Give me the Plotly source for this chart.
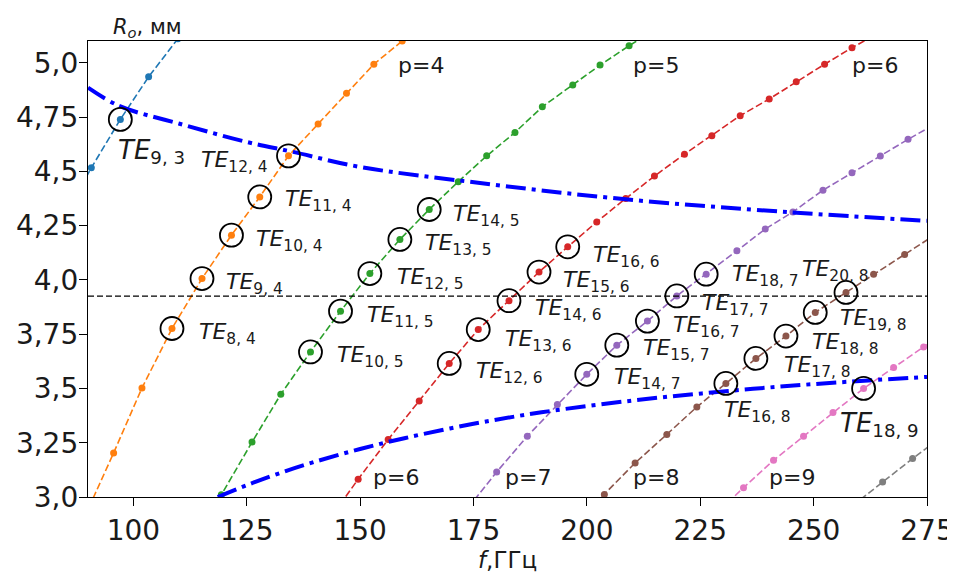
import plotly.graph_objects as go

# ---------------- data ----------------
# TE_{m,p} families: mode index m, frequency f [GHz], radius R [mm]
p3_m = [7, 8, 9, 10, 11]
p3_f = [84.3, 90.73, 97.13, 103.37, 109.8]
p3_R = [4.27, 4.516, 4.739, 4.935, 5.11]

p4_m = [5, 6, 7, 8, 9, 10, 11, 12, 13, 14, 15, 16, 17]
p4_f = [89.3, 95.65, 101.9, 108.52, 115.14, 121.63, 127.87, 134.21, 140.74, 147.0, 153.03, 159.28, 165.5]
p4_R = [2.91, 3.203, 3.502, 3.776, 4.006, 4.206, 4.382, 4.571, 4.718, 4.859, 4.993, 5.10, 5.22]

p5_m = [6, 7, 8, 9, 10, 11, 12, 13, 14, 15, 16, 17, 18, 19, 20, 21, 22]
p5_f = [113.0, 119.4, 126.17, 132.51, 139.06, 145.68, 152.15, 158.77, 165.24, 171.64,
        177.91, 184.15, 190.18, 196.89, 202.91, 209.31, 215.6]
p5_R = [2.74, 3.01, 3.253, 3.473, 3.668, 3.856, 4.029, 4.186, 4.324, 4.452,
        4.571, 4.679, 4.797, 4.897, 4.989, 5.078, 5.16]

p6_m = [8, 9, 10, 11, 12, 13, 14, 15, 16, 17, 18, 19, 20, 21, 22, 23, 24, 25, 26, 27]
p6_f = [143.0, 149.57, 156.19, 163.03, 169.65, 176.05, 182.83, 189.45, 195.78, 202.18,
        208.58, 214.9, 221.52, 227.56, 233.81, 240.21, 246.17, 252.42, 258.46, 264.6]
p6_R = [2.89, 3.082, 3.265, 3.442, 3.615, 3.771, 3.904, 4.036, 4.152, 4.267,
        4.375, 4.478, 4.579, 4.664, 4.756, 4.833, 4.912, 4.993, 5.069, 5.14]

p7_m = [10, 11, 12, 13, 14, 15, 16, 17, 18, 19, 20, 21, 22, 23, 24, 25, 26]
p7_f = [173.8, 180.11, 186.87, 193.49, 199.98, 206.6, 213.35, 219.84, 226.31, 233.08,
        239.33, 245.44, 252.06, 258.46, 264.71, 270.82, 277.0]
p7_R = [2.95, 3.115, 3.280, 3.426, 3.565, 3.699, 3.810, 3.926, 4.026, 4.134,
        4.234, 4.313, 4.413, 4.493, 4.570, 4.647, 4.72]

p8_m = [11, 12, 13, 14, 15, 16, 17, 18, 19, 20, 21, 22, 23]
p8_f = [197.1, 203.86, 210.64, 217.63, 224.25, 230.65, 237.27, 243.9, 250.36, 257.14,
        263.23, 270.07, 276.6]
p8_R = [2.87, 3.012, 3.157, 3.288, 3.415, 3.523, 3.638, 3.741, 3.850, 3.942,
        4.026, 4.117, 4.205]

p9_m = [13, 14, 15, 16, 17, 18, 19, 20, 21]
p9_f = [227.9, 234.54, 241.16, 247.78, 254.27, 261.02, 267.64, 274.26, 280.9]
p9_R = [2.91, 3.043, 3.169, 3.280, 3.389, 3.500, 3.596, 3.691, 3.78]

p10_m = [19, 20, 21, 22]
p10_f = [258.6, 265.21, 271.83, 278.4]
p10_R = [2.96, 3.069, 3.177, 3.28]

# boundary curves (blue dash-dot)
upper_f = [90, 97, 110, 125, 135, 150, 176, 208, 245, 275]
upper_R = [4.885, 4.80, 4.72, 4.635, 4.59, 4.52, 4.447, 4.372, 4.311, 4.272]
lower_f = [118.6, 125, 132, 140, 150, 160, 175, 190, 210, 230, 250, 275]
lower_R = [3.0, 3.054, 3.108, 3.162, 3.221, 3.272, 3.337, 3.39, 3.444, 3.486, 3.52, 3.553]

# horizontal reference radius
R_ref = 3.925

# circled (selected) modes: p -> list of m
circled = {3: [9], 4: [8, 9, 10, 11, 12], 5: [10, 11, 12, 13, 14],
           6: [12, 13, 14, 15, 16], 7: [14, 15, 16, 17, 18],
           8: [16, 17, 18, 19, 20], 9: [18]}

# tick labels
x_ticks = [100, 125, 150, 175, 200, 225, 250, 275]
y_ticks = [3.0, 3.25, 3.5, 3.75, 4.0, 4.25, 4.5, 4.75, 5.0]
y_ticktext = ["3,0", "3,25", "3,5", "3,75", "4,0", "4,25", "4,5", "4,75", "5,0"]

# ---------------- styling / layout ----------------
families = [
    (3, p3_m, p3_f, p3_R, "#1f77b4"),
    (4, p4_m, p4_f, p4_R, "#ff7f0e"),
    (5, p5_m, p5_f, p5_R, "#2ca02c"),
    (6, p6_m, p6_f, p6_R, "#d62728"),
    (7, p7_m, p7_f, p7_R, "#9467bd"),
    (8, p8_m, p8_f, p8_R, "#8c564b"),
    (9, p9_m, p9_f, p9_R, "#e377c2"),
    (10, p10_m, p10_f, p10_R, "#7f7f7f"),
]

FONT = "DejaVu Sans"
TXT = "#1a1a1a"
fig = go.Figure()

for p, ms, fs, Rs, col in families:
    fig.add_trace(go.Scatter(
        x=fs, y=Rs, mode="lines+markers",
        line=dict(color=col, width=1.6, dash="7px,3px"),
        marker=dict(color=col, size=7),
        showlegend=False, hoverinfo="skip"))

# boundaries
for bf, bR in ((upper_f, upper_R), (lower_f, lower_R)):
    fig.add_trace(go.Scatter(x=bf, y=bR, mode="lines",
                             line=dict(color="#0000ff", width=4, dash="20px,6px,4px,6px",
                                       shape="spline"),
                             showlegend=False, hoverinfo="skip"))
# reference radius
fig.add_trace(go.Scatter(x=[90, 275], y=[R_ref, R_ref], mode="lines",
                         line=dict(color="black", width=1.4, dash="6px,3px"),
                         showlegend=False, hoverinfo="skip"))

# circles around selected modes
cx, cy = [], []
for p, ms, fs, Rs, col in families:
    for m in circled.get(p, []):
        i = ms.index(m)
        cx.append(fs[i])
        cy.append(Rs[i])
fig.add_trace(go.Scatter(x=cx, y=cy, mode="markers",
                         marker=dict(symbol="circle-open", size=23, color="black",
                                     line=dict(width=1.8, color="black")),
                         showlegend=False, hoverinfo="skip"))

# mode labels: (m, p, x, y, big)
mode_labels = [
    (9, 3, 96.60, 4.599, True),
    (12, 4, 115.0, 4.555, False), (11, 4, 133.39, 4.375, False),
    (10, 4, 127.14, 4.192, False), (9, 4, 120.52, 3.991, False),
    (8, 4, 114.41, 3.760, False),
    (14, 5, 170.47, 4.307, False), (13, 5, 164.29, 4.174, False),
    (12, 5, 158.04, 4.014, False), (11, 5, 151.42, 3.841, False),
    (10, 5, 144.80, 3.655, False),
    (12, 6, 175.54, 3.582, False), (13, 6, 181.94, 3.730, False),
    (14, 6, 188.57, 3.874, False), (15, 6, 194.81, 4.003, False),
    (16, 6, 201.30, 4.115, False),
    (14, 7, 206.0, 3.555, False), (15, 7, 212.47, 3.687, False),
    (16, 7, 219.09, 3.794, False), (17, 7, 225.49, 3.897, False),
    (18, 7, 232.11, 4.031, False),
    (20, 8, 247.43, 4.054, False), (19, 8, 255.88, 3.825, False),
    (18, 8, 249.63, 3.716, False), (17, 8, 243.37, 3.612, False),
    (16, 8, 230.34, 3.402, False),
    (18, 9, 255.88, 3.342, True),
]
for m, p, x, y, big in mode_labels:
    fig.add_annotation(x=x, y=y, xref="x", yref="y",
                       text=f"<i>TE</i><sub>{m}, {p}</sub>",
                       showarrow=False, xanchor="left", yanchor="middle",
                       yshift=-2, xshift=-2,
                       font=dict(family=FONT, size=26 if big else 22, color=TXT))

# p labels
p_labels = [("p=4", 158.42, 4.98), ("p=5", 210.26, 4.98), ("p=6", 258.46, 4.98),
            ("p=6", 152.88, 3.082), ("p=7", 181.94, 3.082), ("p=8", 210.26, 3.082),
            ("p=9", 240.06, 3.082)]
for t, x, y in p_labels:
    fig.add_annotation(x=x, y=y, xref="x", yref="y", text=t, showarrow=False,
                       xanchor="left", yanchor="middle", yshift=2, xshift=-2,
                       font=dict(family=FONT, size=22, color=TXT))

# axis captions
fig.add_annotation(x=0.028, y=1.0, xref="paper", yref="paper",
                   text="<i>R</i><sub><i>o</i></sub>, мм", showarrow=False,
                   xanchor="left", yanchor="middle", yshift=13,
                   font=dict(family=FONT, size=21, color=TXT))
fig.add_annotation(x=0.5, y=0.0, xref="paper", yref="paper",
                   text="<i>f</i>,ГГц", showarrow=False,
                   xanchor="center", yanchor="middle", yshift=-63,
                   font=dict(family=FONT, size=23, color=TXT))

# the page body has an 8px default margin, so the figure is sized to fit
fig.update_layout(
    width=947, height=564,
    margin=dict(l=80, r=28, t=33, b=75),
    paper_bgcolor="white", plot_bgcolor="white",
    font=dict(family=FONT, color=TXT),
    xaxis=dict(range=[90, 275], tickvals=x_ticks, ticks="outside", ticklen=8,
               tickwidth=1.3, tickcolor="black", showline=True, linecolor="black",
               linewidth=1.3, mirror=True, showgrid=False, zeroline=False,
               automargin=False,
               tickfont=dict(size=28, family=FONT, color=TXT)),
    yaxis=dict(range=[3.0, 5.1], tickvals=y_ticks, ticktext=y_ticktext, ticks="outside",
               ticklen=8, tickwidth=1.3, tickcolor="black", showline=True, linecolor="black",
               linewidth=1.3, mirror=True, showgrid=False, zeroline=False,
               automargin=False, ticklabelstandoff=-5,
               tickfont=dict(size=28, family=FONT, color=TXT)),
)

fig.write_html("out.html")
